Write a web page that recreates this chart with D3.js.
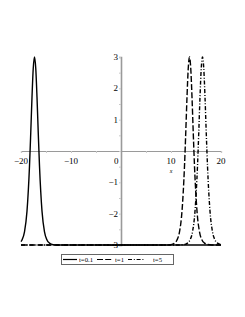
<!DOCTYPE html>
<html>
<head>
<meta charset="utf-8">
<script src="https://cdn.jsdelivr.net/npm/d3@7"></script>
<style>
  body { margin: 0; background: #fff; }
  svg { display: block; }
  text { font-family: "Liberation Serif", "Times New Roman", serif; fill: #000; opacity: 0.99; }
</style>
</head>
<body>
<div id="chart-container"></div>
<script>
// Points, one list per curve
const xs01 = [-20, -19.8, -19.3, -18.8, -18.3, -18.05, -17.8, -17.55, -17.3, -17.05, -16.8, -16.55, -16.3, -15.8, -15.3, -14.8, -14.3, -13.8, -12.8, 20];
const ys01 = [-2.89, -2.84, -2.58, -1.92, -0.48, 0.58, 1.72, 2.64, 3, 2.64, 1.72, 0.58, -0.48, -1.92, -2.58, -2.84, -2.94, -2.98, -3, -3];

const xs1 = [-20, 8.7, 10.2, 10.7, 11.2, 11.7, 12.2, 12.7, 12.95, 13.2, 13.45, 13.7, 13.95, 14.2, 14.45, 14.7, 15.2, 15.7, 16.2, 16.7, 17.2, 18.2, 20];
const ys1 = [-3, -3, -2.98, -2.94, -2.84, -2.58, -1.92, -0.48, 0.58, 1.72, 2.64, 3, 2.64, 1.72, 0.58, -0.48, -1.92, -2.58, -2.84, -2.94, -2.98, -3, -3];

const xs5 = [-20, 11.3, 12.8, 13.3, 13.8, 14.3, 14.8, 15.3, 15.55, 15.8, 16.05, 16.3, 16.55, 16.8, 17.05, 17.3, 17.8, 18.3, 18.8, 19.3, 19.8, 20];
const ys5 = [-3, -3, -2.98, -2.94, -2.84, -2.58, -1.92, -0.48, 0.58, 1.72, 2.64, 3, 2.64, 1.72, 0.58, -0.48, -1.92, -2.58, -2.84, -2.94, -2.98, -2.99];

const legendLabels = ['t=0.1', 't=1', 't=5'];
const xTicks = [-20, -10, 0, 10, 20];
const yTicks = [-3, -2, -1, 1, 2, 3];

const svg = d3.select('#chart-container').append('svg').attr('width', 245).attr('height', 317);

// Scales
const xScale = d3.scaleLinear().domain([-20, 20]).range([21, 221]);
const yScale = d3.scaleLinear().domain([-3, 3]).range([245, 57]);

const axisColor = '#9a9a9a';

// x axis line with minor ticks
const xAxis = svg.append('g').attr('transform', `translate(0, ${yScale(0)})`)
  .call(d3.axisBottom(xScale).tickValues(d3.range(-20, 21, 5)).tickSize(2).tickFormat(''));
xAxis.select('.domain').attr('stroke', axisColor).attr('stroke-width', 1.2);
xAxis.selectAll('.tick line').attr('stroke', '#c8c8c8');

// y axis line with minor ticks
const yAxis = svg.append('g').attr('transform', `translate(${xScale(0)}, 0)`)
  .call(d3.axisLeft(yScale).tickValues(d3.range(-3, 3.01, 0.5)).tickSize(2).tickFormat(''));
yAxis.select('.domain').attr('stroke', axisColor).attr('stroke-width', 1.6);
yAxis.selectAll('.tick line').attr('stroke', '#c8c8c8');

// tick labels
svg.append('g').selectAll('text').data(xTicks.filter(d => d !== 0)).join('text')
  .attr('x', d => xScale(d)).attr('y', yScale(0) + 13)
  .attr('text-anchor', 'middle').attr('font-size', 9)
  .text(d => d < 0 ? '\u2212' + Math.abs(d) : d);

svg.append('text').attr('x', xScale(0) - 2.5).attr('y', yScale(0) + 13)
  .attr('text-anchor', 'end').attr('font-size', 9).text('0');

svg.append('g').selectAll('text').data(yTicks).join('text')
  .attr('x', xScale(0) - 3).attr('y', d => yScale(d) + 3)
  .attr('text-anchor', 'end').attr('font-size', 9)
  .text(d => d < 0 ? '\u2212' + Math.abs(d) : d);

svg.append('text').attr('x', xScale(10)).attr('y', yScale(0) + 22)
  .attr('text-anchor', 'middle').attr('font-size', 6).attr('font-style', 'italic').text('x');

// curves
const line = d3.line().x(d => xScale(d[0])).y(d => yScale(d[1])).curve(d3.curveMonotoneX);
const series = [
  { xs: xs01, ys: ys01, dash: null },
  { xs: xs1, ys: ys1, dash: '6,2.2' },
  { xs: xs5, ys: ys5, dash: '4,1.8,1,1.8' },
];

series.forEach(s => {
  svg.append('path')
    .datum(s.xs.map((x, i) => [x, s.ys[i]]))
    .attr('d', line)
    .attr('fill', 'none')
    .attr('stroke', '#000')
    .attr('stroke-width', 1.4)
    .attr('stroke-dasharray', s.dash);
});

// legend
const legend = svg.append('g');
legend.append('rect').attr('x', 61.5).attr('y', 254.5).attr('width', 112).attr('height', 10)
  .attr('fill', '#fff').attr('stroke', '#666').attr('stroke-width', 1);

const legendPos = [
  { x1: 63, x2: 77, tx: 79 },
  { x1: 97, x2: 112, tx: 115 },
  { x1: 128, x2: 144, tx: 153 },
];
legendLabels.forEach((lab, i) => {
  const p = legendPos[i];
  legend.append('line').attr('x1', p.x1).attr('x2', p.x2).attr('y1', 259.5).attr('y2', 259.5)
    .attr('stroke', '#000').attr('stroke-width', 1.2)
    .attr('stroke-dasharray', series[i].dash);
  legend.append('text').attr('x', p.tx).attr('y', 262).attr('font-size', 6.7).text(lab);
});
</script>
</body>
</html>
